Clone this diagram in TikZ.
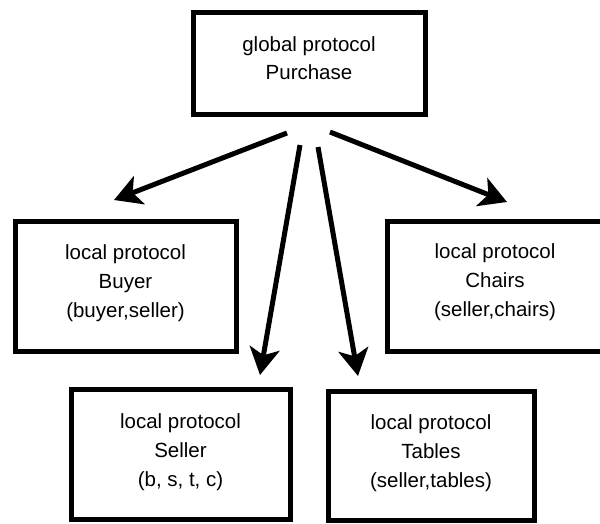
\documentclass[tikz,border=0pt]{standalone}
\usepackage{fontspec}
\setmainfont{Liberation Sans}
\usetikzlibrary{arrows.meta}
\begin{document}
\begin{tikzpicture}[x=1pt,y=-1pt,
  box/.style={draw, line width=5pt, inner sep=0pt},
  label/.style={align=center, inner sep=0pt, font=\fontsize{20.5}{29}\selectfont},
  link/.style={line width=5pt, -{Stealth[length=27pt,width=30pt,inset=7pt]}}]
  % page frame
  \useasboundingbox (0,0) rectangle (600,523);

  % protocol boxes
  \node[box, minimum width=232pt, minimum height=102pt] (top)    at (309,63)    {};
  \node[box, minimum width=221pt, minimum height=130pt] (buyer)  at (125.5,286) {};
  \node[box, minimum width=216pt, minimum height=130pt] (chairs) at (495,286)   {};
  \node[box, minimum width=219pt, minimum height=130pt] (seller) at (180.5,454) {};
  \node[box, minimum width=206pt, minimum height=129pt] (tables) at (431,455.5) {};

  % box texts
  \node[label, font=\fontsize{20.5}{28}\selectfont] (toptxt) at (309,58.5) {global protocol\\Purchase};
  \node[label] (buyertxt)  at (125.5,283) {local protocol\\Buyer\\(buyer,seller)};
  \node[label] (chairstxt) at (495,282)   {local protocol\\Chairs\\(seller,chairs)};
  \node[label] (sellertxt) at (180.5,452) {local protocol\\Seller\\(b, s, t, c)};
  \node[label] (tablestxt) at (431,453)   {local protocol\\Tables\\(seller,tables)};

  % arrow ends
  \coordinate (fromB) at (287,133);
  \coordinate (toB)   at (114,200);
  \coordinate (fromS) at (300,145);
  \coordinate (toS)   at (260,375);
  \coordinate (fromT) at (318,147);
  \coordinate (toT)   at (358,376);
  \coordinate (fromC) at (330,132);
  \coordinate (toC)   at (507,202);

  % projections from the global protocol
  \draw[link] (fromB) -- (toB);
  \draw[link] (fromS) -- (toS);
  \draw[link] (fromT) -- (toT);
  \draw[link] (fromC) -- (toC);
\end{tikzpicture}
\end{document}
